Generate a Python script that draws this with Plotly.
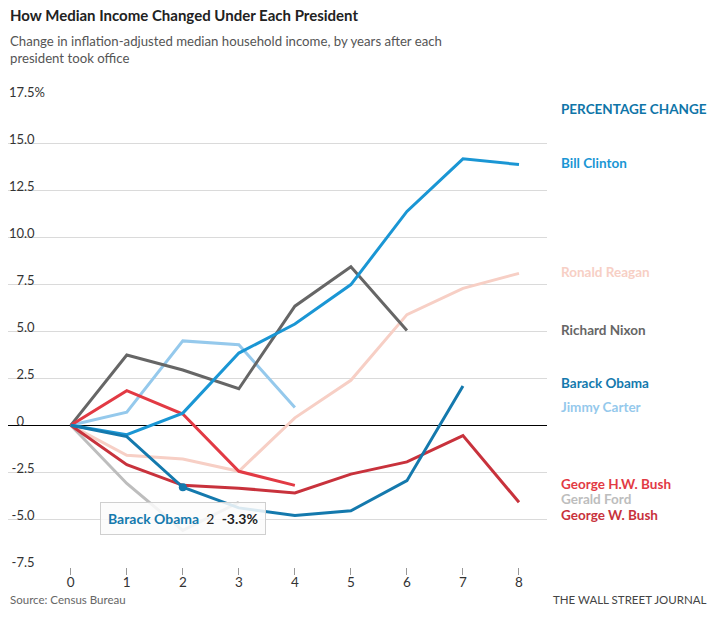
import plotly.graph_objects as go

# ---------------- data ----------------
years = [0, 1, 2, 3, 4, 5, 6, 7, 8]

presidents = ["Bill Clinton", "Ronald Reagan", "Richard Nixon", "Barack Obama",
              "Jimmy Carter", "George H.W. Bush", "Gerald Ford", "George W. Bush"]

clinton = [0, -0.5, 0.65, 3.85, 5.4, 7.5, 11.4, 14.2, 13.9]
reagan = [0, -1.6, -1.8, -2.45, 0.4, 2.4, 5.9, 7.3, 8.1]
nixon = [0, 3.75, 2.95, 1.95, 6.35, 8.45, 5.05]
obama = [0, -0.6, -3.3, -4.4, -4.8, -4.55, -2.95, 2.1]
carter = [0, 0.7, 4.5, 4.3, 0.95]
hw_bush = [0, 1.85, 0.6, -2.45, -3.2]
ford = [0, -3.1, -5.6, -4.1]
w_bush = [0, -2.1, -3.2, -3.35, -3.6, -2.6, -1.95, -0.55, -4.1]

y_tickvals = [-7.5, -5, -2.5, 0, 2.5, 5, 7.5, 10, 12.5, 15, 17.5]
y_ticklabels = ["-7.5", "-5.0", "-2.5", "0", "2.5", "5.0", "7.5", "10.0", "12.5", "15.0", "17.5%"]

highlight_name = "Barack Obama"
highlight_year = 2

# ---------------- styles ----------------
series = {
    "Gerald Ford": (ford, "#bdbdbd"),
    "Ronald Reagan": (reagan, "#f7cfc5"),
    "Jimmy Carter": (carter, "#95c9ec"),
    "Richard Nixon": (nixon, "#666666"),
    "George W. Bush": (w_bush, "#c8323c"),
    "George H.W. Bush": (hw_bush, "#e23a44"),
    "Bill Clinton": (clinton, "#1a96d4"),
    "Barack Obama": (obama, "#1479ad"),
}
# label vertical positions (nudged to avoid collisions)
label_y = {
    "Bill Clinton": 14.0, "Ronald Reagan": 8.17, "Richard Nixon": 5.09,
    "Barack Obama": 2.23, "Jimmy Carter": 0.99, "George H.W. Bush": -3.12,
    "Gerald Ford": -3.94, "George W. Bush": -4.76,
}

W, H = 722, 619
ML, MR, MT, MB = 8, 175, 96.4, 51.8
PH = H - MT - MB
FONT = "Lato"
HIDE = "<span style='color:rgba(0,0,0,0)'>%s</span>"


def py2paper(py):
    return (H - MB - py) / PH


def tick_label(t):
    # decimal-aligned labels: pad with invisible characters
    if t.endswith("%"):
        return t
    if "." not in t:
        return t + HIDE % ".0%"
    return t + HIDE % "%"


fig = go.Figure()
for name, (vals, col) in series.items():
    fig.add_trace(go.Scatter(
        x=years[:len(vals)], y=vals, mode="lines", name=name,
        line=dict(color=col, width=3), hoverinfo="skip",
    ))

hv = obama[highlight_year]
fig.add_trace(go.Scatter(
    x=[highlight_year], y=[hv], mode="markers",
    marker=dict(color="#1479ad", size=8), hoverinfo="skip",
))

annotations = []
LX = (559 - ML) / (W - ML - MR)
annotations.append(dict(
    xref="paper", yref="paper", x=LX, y=py2paper(109.3),
    xanchor="left", yanchor="middle", showarrow=False,
    text="<b>PERCENTAGE CHANGE</b>", font=dict(family=FONT, size=13.5, color="#0f75a8"),
))
for name, (vals, col) in series.items():
    annotations.append(dict(
        xref="paper", yref="y", x=LX, y=label_y[name],
        xanchor="left", yanchor="middle", showarrow=False,
        text="<b>%s</b>" % name, font=dict(family=FONT, size=13.5, color=col),
    ))

annotations.append(dict(
    xref="x", yref="y", x=highlight_year, y=hv, xanchor="center", yanchor="top",
    yshift=-15, showarrow=False,
    text="<span style='color:#1479ad'><b>%s</b></span>\u00a0\u00a0%d\u00a0\u00a0<b>%.1f%%</b>" % (highlight_name, highlight_year, hv),
    font=dict(family=FONT, size=14, color="#222"),
    bgcolor="rgba(251,251,251,0.86)", bordercolor="#cfcfcf", borderwidth=1, borderpad=7,
))

annotations.append(dict(
    xref="paper", yref="paper", x=0, y=py2paper(15), xanchor="left", yanchor="middle",
    showarrow=False, text="<b>How Median Income Changed Under Each President</b>",
    font=dict(family=FONT, size=15, color="#222"),
))
annotations.append(dict(
    xref="paper", yref="paper", x=0, y=py2paper(50), xanchor="left", yanchor="middle",
    showarrow=False, align="left",
    text="Change in inflation-adjusted median household income, by years after each<br>president took office",
    font=dict(family=FONT, size=13.2, color="#555"),
))
annotations.append(dict(
    xref="paper", yref="paper", x=0, y=py2paper(600), xanchor="left", yanchor="middle",
    showarrow=False, text="Source: Census Bureau",
    font=dict(family=FONT, size=11.5, color="#666"),
))
annotations.append(dict(
    xref="paper", yref="paper", x=(708 - ML) / (W - ML - MR), y=py2paper(600), xanchor="right",
    yanchor="middle", showarrow=False, text="THE WALL STREET JOURNAL",
    font=dict(family=FONT, size=11.5, color="#444"),
))

fig.update_layout(
    width=W, height=H,
    margin=dict(l=ML, r=MR, t=MT, b=MB, pad=0),
    paper_bgcolor="white", plot_bgcolor="white",
    showlegend=False, hovermode=False,
    annotations=annotations,
    xaxis=dict(
        range=[-1.12, 8.5], tickvals=years, ticktext=[str(y) for y in years],
        showgrid=False, zeroline=False, showline=False,
        ticks="outside", ticklen=7, tickcolor="#999", tickwidth=1,
        ticklabelstandoff=-4,
        tickfont=dict(family=FONT, size=13.5, color="#333"),
        automargin=False, fixedrange=True,
    ),
    yaxis=dict(
        range=[-7.55, 17.55], tickvals=y_tickvals,
        ticktext=[tick_label(t) for t in y_ticklabels],
        showgrid=True, gridcolor="#dadada", gridwidth=1,
        zeroline=True, zerolinecolor="#000", zerolinewidth=1.2,
        showline=False, ticks="",
        ticklabelposition="outside top", ticklabelstandoff=-38, ticklabelshift=5,
        tickfont=dict(family=FONT, size=13, color="#333"),
        automargin=False, fixedrange=True,
    ),
)

fig.write_html(
    "out.html",
    config={"displayModeBar": False, "staticPlot": True},
    post_script="document.body.style.margin='0';document.body.style.padding='0';",
)
